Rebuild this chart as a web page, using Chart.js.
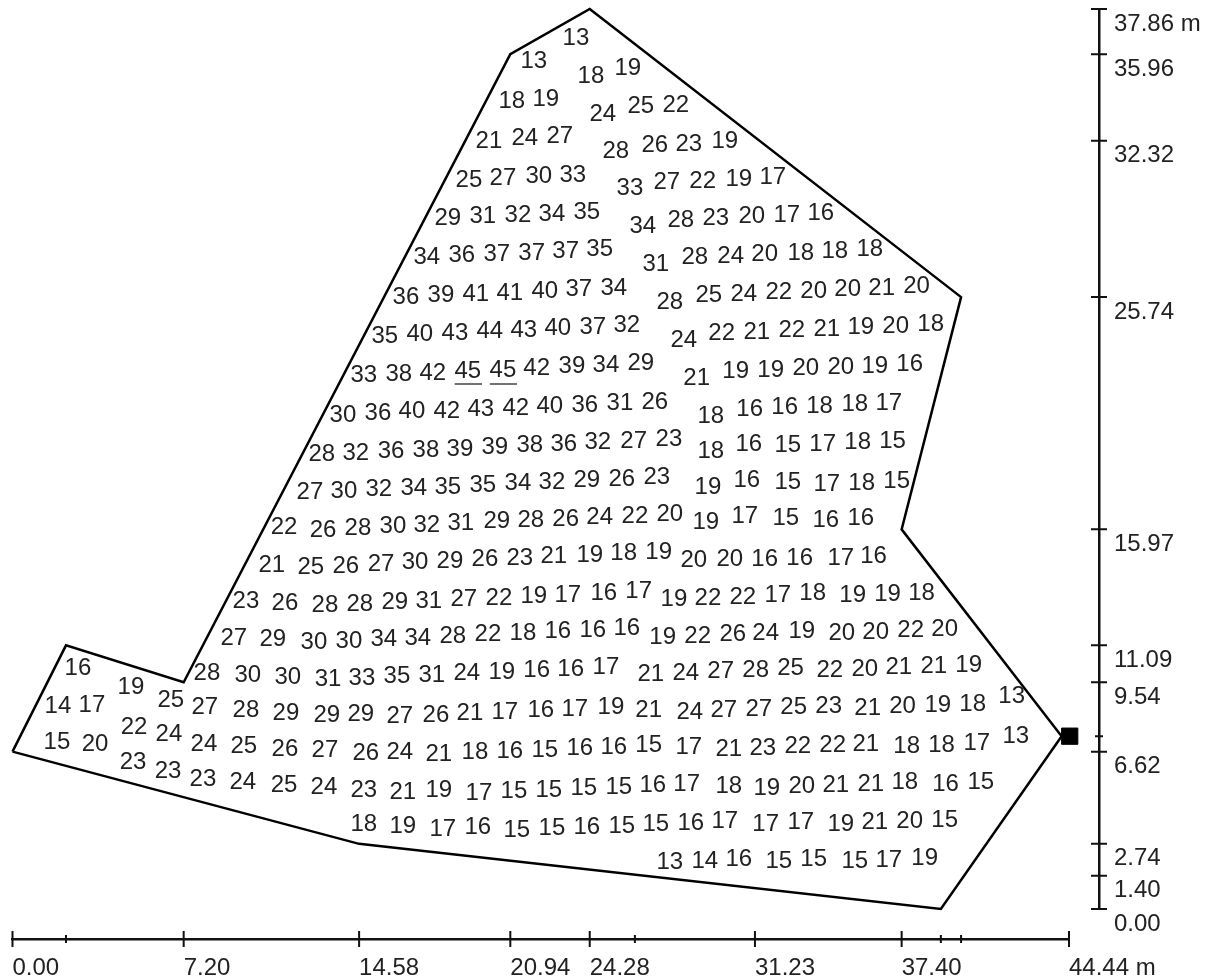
<!DOCTYPE html>
<html>
<head>
<meta charset="utf-8">
<script src="https://cdn.jsdelivr.net/npm/chart.js@4/dist/chart.umd.min.js"></script>
<style>
	body { margin: 0; background: #fff; }
	canvas { display: block; }
</style>
</head>
<body>
<canvas id="myChart" width="1208" height="979"></canvas>
<script>
// axis ticks in metres, '' = tick without a label
const xTicks = [0, 2.25, 7.20, 14.58, 20.94, 24.28, 26.18, 31.23, 37.40, 39.05, 39.9, 44.44];
const xTickLabels = ['0.00', '', '7.20', '14.58', '20.94', '24.28', '', '31.23', '37.40', '', '', '44.44 m'];
const yTicks = [0, 1.40, 2.74, 6.62, 7.27, 9.54, 11.09, 15.97, 25.74, 32.32, 35.96, 37.86];
const yTickLabels = ['0.00', '1.40', '2.74', '6.62', '', '9.54', '11.09', '15.97', '25.74', '32.32', '35.96', '37.86 m'];

// room outline
const roomX = [0, 2.25, 7.20, 20.94, 24.28, 39.9, 37.40, 44.13, 39.05, 14.58, 0];
const roomY = [6.62, 11.09, 9.54, 35.96, 37.86, 25.74, 15.97, 7.27, 0, 2.74, 6.62];

// luminaire marker
const lampX = [44.47];
const lampY = [7.27];

// the two maximum values are underlined
const underlineX = [18.6, 19.75, null, 20.08, 21.22];
const underlineY = [22.09, 22.09, null, 22.09, 22.09];

// measured values and where they were written
const gridValues = [
	13, 13, 18, 19, 18, 19, 24, 25, 22, 21, 24, 27, 28, 26, 23, 19,
	25, 27, 30, 33, 33, 27, 22, 19, 17,
	29, 31, 32, 34, 35, 34, 28, 23, 20, 17, 16,
	34, 36, 37, 37, 37, 35, 31, 28, 24, 20, 18, 18, 18,
	36, 39, 41, 41, 40, 37, 34, 28, 25, 24, 22, 20, 20, 21, 20,
	35, 40, 43, 44, 43, 40, 37, 32, 24, 22, 21, 22, 21, 19, 20, 18,
	33, 38, 42, 45, 45, 42, 39, 34, 29, 21, 19, 19, 20, 20, 19, 16,
	30, 36, 40, 42, 43, 42, 40, 36, 31, 26, 18, 16, 16, 18, 18, 17,
	28, 32, 36, 38, 39, 39, 38, 36, 32, 27, 23, 18, 16, 15, 17, 18, 15,
	27, 30, 32, 34, 35, 35, 34, 32, 29, 26, 23, 19, 16, 15, 17, 18, 15,
	22, 26, 28, 30, 32, 31, 29, 28, 26, 24, 22, 20, 19, 17, 15, 16, 16,
	21, 25, 26, 27, 30, 29, 26, 23, 21, 19, 18, 19, 20, 20, 16, 16, 17, 16,
	23, 26, 28, 28, 29, 31, 27, 22, 19, 17, 16, 17, 19, 22, 22, 17, 18, 19, 19, 18,
	27, 29, 30, 30, 34, 34, 28, 22, 18, 16, 16, 16, 19, 22, 26, 24, 19, 20, 20, 22, 20,
	16,
	28, 30, 30, 31, 33, 35, 31, 24, 19, 16, 16, 17, 21, 24, 27, 28, 25, 22, 20, 21, 21, 19,
	19, 25, 14, 17,
	27, 28, 29, 29, 29, 27, 26, 21, 17, 16, 17, 19, 21, 24, 27, 27, 25, 23, 21, 20, 19, 18, 13,
	22, 24, 15, 20,
	24, 25, 26, 27, 26, 24, 21, 18, 16, 15, 16, 16, 15, 17, 21, 23, 22, 22, 21, 18, 18, 17, 13,
	23, 23, 23, 24, 25, 24, 23, 21, 19, 17, 15, 15, 15, 15, 16, 17, 18, 19, 20, 21, 21, 18, 16, 15,
	18, 19, 17, 16, 15, 15, 16, 15, 15, 16, 17, 17, 17, 19, 21, 20, 15,
	13, 14, 16, 15, 15, 15, 17, 19
];
const gridX = [
	23.70, 21.93, 24.33, 25.88, 21.00, 22.43, 24.83, 26.43, 27.90, 20.04, 21.55, 23.02, 25.38, 27.02, 28.45, 29.96,
	19.20, 20.63, 22.14, 23.57, 25.97, 27.52, 29.03, 30.55, 31.98,
	18.31, 19.78, 21.26, 22.69, 24.16, 26.51, 28.11, 29.58, 31.10, 32.57, 34.00,
	17.43, 18.90, 20.37, 21.84, 23.27, 24.70, 27.06, 28.70, 30.21, 31.64, 33.16, 34.59, 36.06,
	16.55, 18.02, 19.49, 20.92, 22.39, 23.82, 25.29, 27.65, 29.29, 30.76, 32.23, 33.70, 35.13, 36.56, 38.03,
	15.66, 17.13, 18.61, 20.08, 21.51, 22.94, 24.41, 25.84, 28.24, 29.83, 31.31, 32.78, 34.25, 35.68, 37.15, 38.62,
	14.78, 16.25, 17.68, 19.15, 20.63, 22.05, 23.53, 24.96, 26.43, 28.78, 30.42, 31.89, 33.37, 34.84, 36.27, 37.74,
	13.90, 15.37, 16.80, 18.27, 19.70, 21.17, 22.60, 24.07, 25.55, 27.02, 29.37, 31.01, 32.48, 33.95, 35.43, 36.86,
	13.01, 14.44, 15.92, 17.39, 18.82, 20.29, 21.76, 23.19, 24.62, 26.13, 27.61, 29.37, 30.97, 32.61, 34.08, 35.55, 37.02,
	12.51, 13.94, 15.41, 16.88, 18.31, 19.78, 21.26, 22.69, 24.16, 25.63, 27.10, 29.25, 30.89, 32.61, 34.25, 35.72, 37.19,
	11.42, 13.06, 14.53, 16.00, 17.43, 18.86, 20.37, 21.80, 23.27, 24.70, 26.18, 27.65, 29.16, 30.80, 32.53, 34.21, 35.68,
	10.91, 12.55, 14.02, 15.50, 16.93, 18.40, 19.87, 21.34, 22.77, 24.28, 25.71, 27.18, 28.66, 30.17, 31.64, 33.11, 34.84, 36.22,
	9.82, 11.46, 13.14, 14.61, 16.08, 17.51, 18.98, 20.46, 21.93, 23.36, 24.87, 26.34, 27.82, 29.25, 30.72, 32.19, 33.66, 35.34, 36.81, 38.24,
	9.31, 10.95, 12.68, 14.15, 15.62, 17.05, 18.52, 20.00, 21.47, 22.94, 24.41, 25.84, 27.35, 28.82, 30.30, 31.68, 33.20, 34.88, 36.31, 37.78, 39.21,
	2.75,
	8.18, 9.90, 11.58, 13.27, 14.70, 16.17, 17.64, 19.11, 20.58, 22.05, 23.48, 24.96, 26.85, 28.32, 29.79, 31.26, 32.73, 34.38, 35.85, 37.28, 38.75, 40.22,
	4.98, 6.66, 1.91, 3.34,
	8.09, 9.82, 11.50, 13.22, 14.65, 16.29, 17.81, 19.24, 20.71, 22.22, 23.65, 25.17, 26.76, 28.49, 29.92, 31.39, 32.86, 34.33, 35.97, 37.44, 38.92, 40.39, 42.03,
	5.11, 6.58, 1.87, 3.47,
	8.05, 9.73, 11.46, 13.14, 14.86, 16.29, 17.93, 19.45, 20.92, 22.39, 23.86, 25.29, 26.76, 28.45, 30.13, 31.56, 33.03, 34.50, 35.89, 37.61, 39.08, 40.56, 42.20,
	5.07, 6.54, 8.01, 9.69, 11.42, 13.10, 14.78, 16.42, 17.93, 19.62, 21.09, 22.56, 24.03, 25.50, 26.93, 28.36, 30.13, 31.73, 33.20, 34.63, 36.10, 37.53, 39.25, 40.73,
	14.78, 16.42, 18.10, 19.57, 21.21, 22.69, 24.16, 25.63, 27.06, 28.53, 29.96, 31.68, 33.16, 34.84, 36.27, 37.74, 39.21,
	27.65, 29.12, 30.55, 32.23, 33.70, 35.43, 36.86, 38.37
];
const gridY = [
	36.69, 35.72, 35.09, 35.42, 34.03, 34.12, 33.49, 33.82, 33.87, 32.35, 32.48, 32.56, 31.93, 32.18, 32.23, 32.35,
	30.71, 30.80, 30.88, 30.92, 30.37, 30.63, 30.67, 30.75, 30.84,
	29.11, 29.20, 29.24, 29.28, 29.37, 28.78, 29.03, 29.11, 29.20, 29.24, 29.32,
	27.47, 27.56, 27.60, 27.64, 27.72, 27.81, 27.18, 27.47, 27.51, 27.60, 27.64, 27.72, 27.81,
	25.79, 25.87, 25.92, 25.96, 26.04, 26.13, 26.17, 25.58, 25.87, 25.92, 26.00, 26.04, 26.13, 26.17, 26.25,
	24.15, 24.23, 24.27, 24.36, 24.40, 24.48, 24.53, 24.61, 23.98, 24.27, 24.32, 24.40, 24.44, 24.53, 24.57, 24.65,
	22.51, 22.55, 22.59, 22.68, 22.72, 22.80, 22.89, 22.93, 23.01, 22.38, 22.68, 22.72, 22.80, 22.84, 22.89, 22.97,
	20.82, 20.91, 20.99, 20.99, 21.08, 21.12, 21.20, 21.25, 21.33, 21.37, 20.78, 21.08, 21.16, 21.20, 21.29, 21.33,
	19.18, 19.23, 19.31, 19.35, 19.39, 19.48, 19.56, 19.60, 19.69, 19.73, 19.81, 19.31, 19.60, 19.56, 19.60, 19.69, 19.73,
	17.59, 17.63, 17.71, 17.75, 17.80, 17.88, 17.96, 18.01, 18.09, 18.13, 18.22, 17.80, 18.09, 18.01, 17.92, 17.96, 18.05,
	16.11, 15.99, 16.07, 16.15, 16.20, 16.28, 16.37, 16.41, 16.45, 16.53, 16.58, 16.66, 16.32, 16.58, 16.49, 16.41, 16.49,
	14.51, 14.43, 14.47, 14.56, 14.64, 14.68, 14.77, 14.81, 14.89, 14.93, 15.02, 15.06, 14.72, 14.77, 14.77, 14.81, 14.81, 14.89,
	13.00, 12.92, 12.83, 12.87, 12.96, 13.00, 13.08, 13.13, 13.21, 13.25, 13.34, 13.42, 13.08, 13.13, 13.17, 13.25, 13.34, 13.25, 13.29, 13.34,
	11.44, 11.40, 11.27, 11.32, 11.40, 11.44, 11.53, 11.61, 11.65, 11.74, 11.78, 11.86, 11.49, 11.53, 11.61, 11.65, 11.74, 11.65, 11.70, 11.78, 11.82,
	10.18,
	9.97, 9.89, 9.80, 9.72, 9.76, 9.84, 9.89, 9.97, 10.01, 10.10, 10.14, 10.22, 9.93, 9.97, 10.05, 10.10, 10.18, 10.10, 10.14, 10.22, 10.27, 10.31,
	9.38, 8.83, 8.58, 8.62,
	8.54, 8.41, 8.29, 8.20, 8.25, 8.16, 8.20, 8.29, 8.33, 8.41, 8.46, 8.54, 8.41, 8.33, 8.41, 8.46, 8.54, 8.58, 8.50, 8.58, 8.62, 8.67, 9.00,
	7.70, 7.40, 7.07, 6.98,
	6.98, 6.90, 6.77, 6.73, 6.60, 6.65, 6.56, 6.65, 6.69, 6.73, 6.82, 6.86, 6.94, 6.86, 6.77, 6.82, 6.90, 6.94, 6.98, 6.90, 6.94, 7.03, 7.32,
	6.23, 5.85, 5.51, 5.38, 5.26, 5.17, 5.05, 4.96, 5.05, 4.92, 5.01, 5.05, 5.13, 5.17, 5.26, 5.30, 5.22, 5.13, 5.22, 5.26, 5.30, 5.38, 5.30, 5.38,
	3.62, 3.53, 3.41, 3.49, 3.37, 3.45, 3.49, 3.53, 3.62, 3.66, 3.74, 3.62, 3.70, 3.62, 3.70, 3.74, 3.79,
	2.02, 2.06, 2.15, 2.06, 2.15, 2.06, 2.10, 2.19
];

const FONT_FAMILY = '"Liberation Sans", Arial, sans-serif';
const FONT_SIZE = 24;
const INK = '#222';

function toPoints(xs, ys)
{
	return xs.map((x, i) => ({ x: x, y: ys[i] }));
}

// writes each grid value at its point
const gridTextPlugin = {
	id: 'gridText',
	afterDatasetsDraw(chart)
	{
		const ctx = chart.ctx;
		const meta = chart.getDatasetMeta(3);
		ctx.save();
		ctx.font = FONT_SIZE + 'px ' + FONT_FAMILY;
		ctx.fillStyle = INK;
		ctx.textAlign = 'center';
		ctx.textBaseline = 'middle';
		// 'middle' sits a little high for digits
		meta.data.forEach((pt, i) => ctx.fillText(String(gridValues[i]), pt.x, pt.y + 1.5));
		ctx.restore();
	}
};

// tick marks cross the axis line, the unlabelled ones are shorter
const crossTickPlugin = {
	id: 'crossTick',
	afterDraw(chart)
	{
		const ctx = chart.ctx;
		const sx = chart.scales.x;
		const sy = chart.scales.y;
		ctx.save();
		ctx.strokeStyle = '#111';
		ctx.lineWidth = 2;
		ctx.beginPath();
		xTicks.forEach((v, i) => {
			const p = sx.getPixelForValue(v);
			const h = xTickLabels[i] === '' ? 4 : 8;
			ctx.moveTo(p, sx.top - h);
			ctx.lineTo(p, sx.top + h);
		});
		yTicks.forEach((v, i) => {
			const p = sy.getPixelForValue(v);
			const h = yTickLabels[i] === '' ? 4 : 8;
			ctx.moveTo(sy.left - h, p);
			ctx.lineTo(sy.left + h, p);
		});
		ctx.stroke();
		ctx.restore();
	}
};

// labels overhang the plot in the reference, so no extra room is reserved for them
function noLabelPadding(axis)
{
	axis.paddingLeft = 0;
	axis.paddingRight = 0;
	axis.paddingTop = 0;
	axis.paddingBottom = 0;
}

const ctx = document.getElementById('myChart').getContext('2d');
const myChart = new Chart(ctx, {
	type: 'scatter',
	data: {
		datasets: [
			{
				data: toPoints(roomX, roomY),
				showLine: true,
				borderColor: '#000',
				borderWidth: 2.5,
				pointRadius: 0,
				fill: false,
				tension: 0,
				clip: false
			},
			{
				data: toPoints(underlineX, underlineY),
				showLine: true,
				spanGaps: false,
				borderColor: '#444',
				borderWidth: 1.5,
				pointRadius: 0
			},
			{
				data: toPoints(lampX, lampY),
				pointStyle: 'rect',
				pointRadius: 11.5,
				backgroundColor: '#000',
				borderColor: '#000',
				clip: false
			},
			{
				data: toPoints(gridX, gridY),
				pointRadius: 0
			}
		]
	},
	options: {
		responsive: false,
		animation: false,
		layout: {
			autoPadding: false,
			padding: { left: 12.5, top: 9, right: 0, bottom: 0 }
		},
		plugins: {
			legend: { display: false },
			tooltip: { enabled: false }
		},
		scales: {
			x: {
				type: 'linear',
				position: 'bottom',
				weight: 1,
				min: 0,
				max: 44.44,
				afterBuildTicks: axis => { axis.ticks = xTicks.map(v => ({ value: v })); },
				afterFit: axis => { axis.height = 40; noLabelPadding(axis); },
				grid: { display: false },
				border: { display: true, color: '#111', width: 2.5 },
				ticks: {
					autoSkip: false,
					maxRotation: 0,
					minRotation: 0,
					align: 'start',
					padding: 7,
					color: INK,
					font: { family: FONT_FAMILY, size: FONT_SIZE },
					callback: v => xTickLabels[xTicks.indexOf(v)]
				}
			},
			y: {
				type: 'linear',
				position: 'right',
				weight: 1,
				min: 0,
				max: 37.86,
				afterBuildTicks: axis => { axis.ticks = yTicks.map(v => ({ value: v })); },
				afterFit: axis => { axis.width = 109; noLabelPadding(axis); },
				grid: { display: false },
				border: { display: true, color: '#111', width: 2.5 },
				ticks: {
					autoSkip: false,
					padding: 7,
					labelOffset: 15,
					color: INK,
					font: { family: FONT_FAMILY, size: FONT_SIZE },
					callback: v => yTickLabels[yTicks.indexOf(v)]
				}
			},
			// empty axes only keep the real ones away from the plot
			xGap: {
				type: 'linear',
				axis: 'x',
				position: 'bottom',
				weight: 0,
				afterFit: axis => { axis.height = 30; noLabelPadding(axis); },
				grid: { display: false },
				border: { display: false },
				ticks: { display: false }
			},
			yGap: {
				type: 'linear',
				axis: 'y',
				position: 'right',
				weight: 0,
				afterFit: axis => { axis.width = 30; noLabelPadding(axis); },
				grid: { display: false },
				border: { display: false },
				ticks: { display: false }
			}
		}
	},
	plugins: [gridTextPlugin, crossTickPlugin]
});
</script>
</body>
</html>
